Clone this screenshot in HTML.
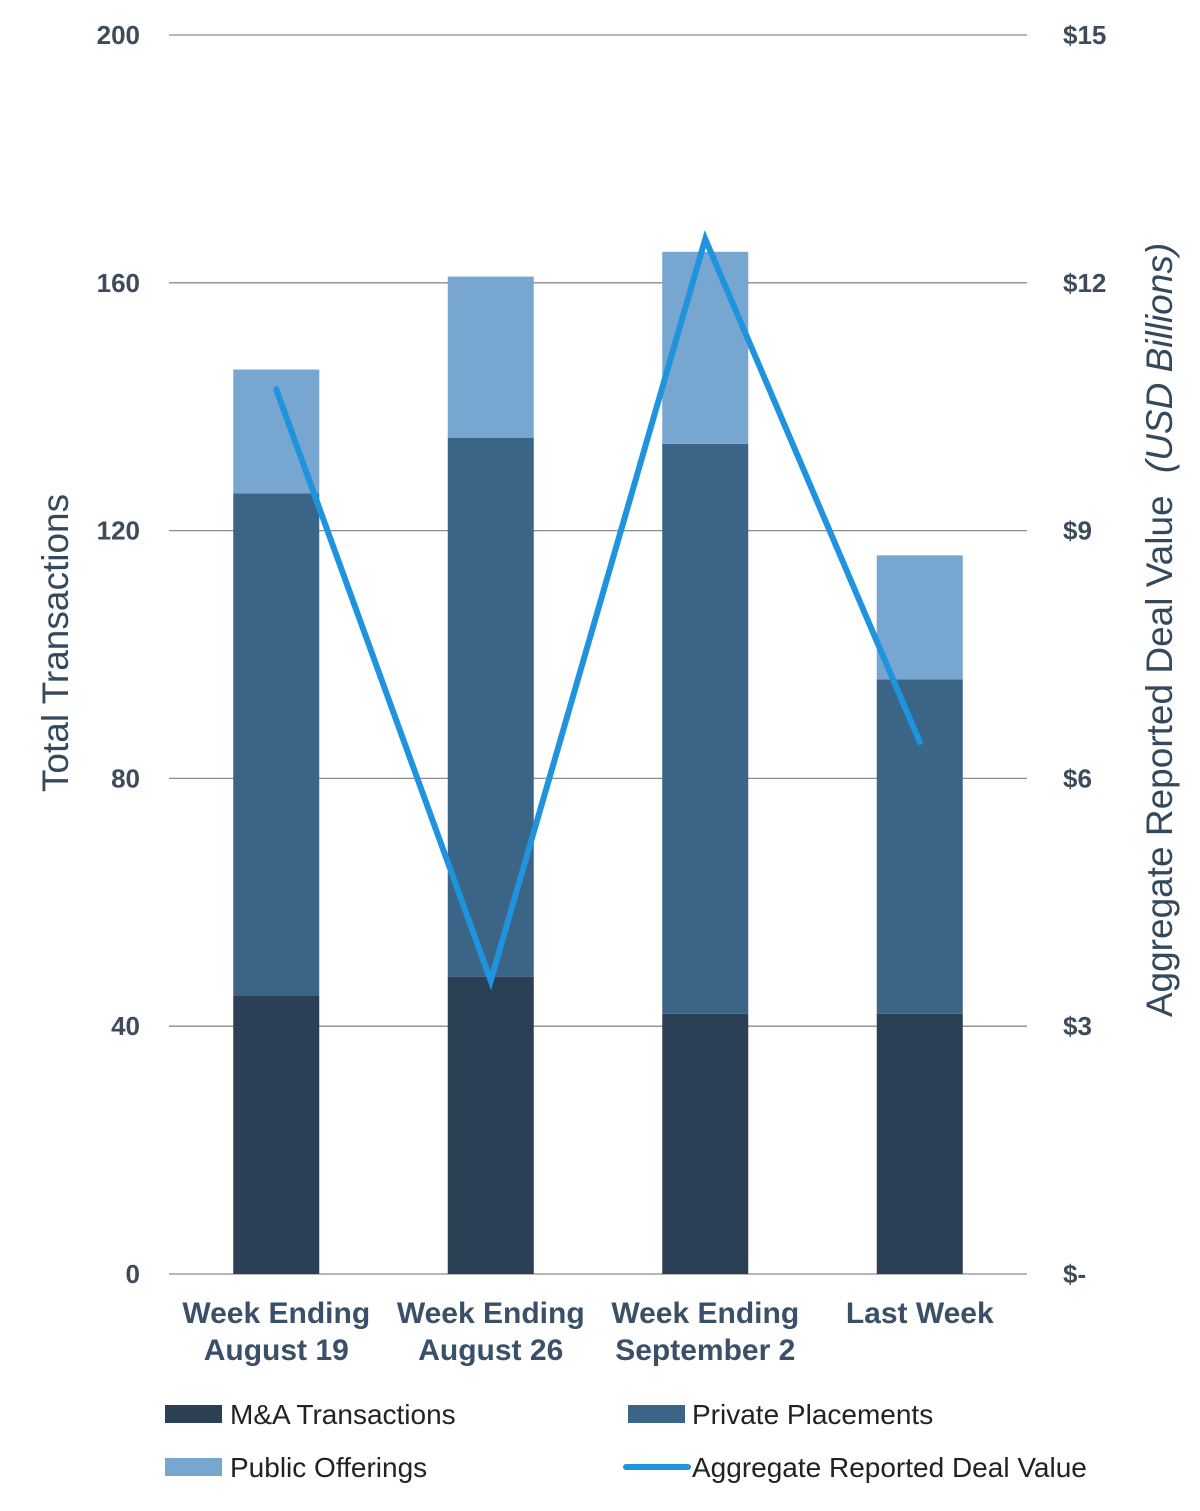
<!DOCTYPE html>
<html><head><meta charset="utf-8"><style>
body{margin:0;background:#fff;}
svg{display:block;font-family:"Liberation Sans","DejaVu Sans",sans-serif;}
</style></head><body>
<svg id="chart" width="1200" height="1511" viewBox="0 0 1200 1511">
<g id="grid"></g>
<g id="bars"></g>
<g id="line"></g>
<g id="ticks"></g>
<text transform="translate(68,643) rotate(-90)" text-anchor="middle" font-size="37" fill="#34495e">Total Transactions</text>
<text transform="translate(1172,630) rotate(-90)" text-anchor="middle" font-size="37" fill="#34495e">Aggregate Reported Deal Value <tspan font-style="italic" dx="12">(USD Billions)</tspan></text>
<g font-size="28" fill="#222">
<rect x="165" y="1405" width="57" height="18" fill="#2b3f55"/>
<text x="230" y="1424">M&amp;A Transactions</text>
<rect x="628" y="1405" width="57" height="18" fill="#3a6587"/>
<text x="692" y="1424">Private Placements</text>
<rect x="165" y="1458" width="57" height="18" fill="#77a6d1"/>
<text x="230" y="1477">Public Offerings</text>
<line x1="626" y1="1467" x2="688" y2="1467" stroke="#1f93dd" stroke-width="6" stroke-linecap="round"/>
<text x="692" y="1477">Aggregate Reported Deal Value</text>
</g>
</svg>
<script>
const categories=[["Week Ending","August 19"],["Week Ending","August 26"],["Week Ending","September 2"],["Last Week"]];
const maValues=[45,48,42,42];
const ppValues=[81,87,92,54];
const poValues=[20,26,31,20];
const dealValues=[10.71,3.55,12.53,6.44];
const leftTicks=[0,40,80,120,160,200];
const rightTickLabels=["$-","$3","$6","$9","$12","$15"];
const rightTicks=[0,3,6,9,12,15];

const NS="http://www.w3.org/2000/svg";
const x0=169,x1=1027,yB=1274,yT=35;
const yL=v=>yB-(v/200)*(yB-yT);
const yR=v=>yB-(v/15)*(yB-yT);
const band=(x1-x0)/categories.length;
const bw=86;
function mk(tag,attrs,parent){const e=document.createElementNS(NS,tag);for(const k in attrs)e.setAttribute(k,attrs[k]);parent.appendChild(e);return e;}
const grid=document.getElementById('grid'),bars=document.getElementById('bars'),line=document.getElementById('line'),ticks=document.getElementById('ticks');
leftTicks.forEach((t,i)=>{
  const g=mk('line',{x1:x0,x2:x1,y1:yL(t),y2:yL(t),stroke:'#8c8c8c','stroke-width':1.3},grid);
  
  
  const lt=mk('text',{x:140,y:yL(t)+9,'text-anchor':'end','font-size':26,'font-weight':'bold',fill:'#3d4b5a'},ticks);
  lt.textContent=t;
  
  
});
rightTicks.forEach((t,i)=>{
  const rt=mk('text',{x:1063,y:yR(t)+9,'font-size':26,'font-weight':'bold',fill:'#3d4b5a'},ticks);
  rt.textContent=rightTickLabels[i];
  
  
});
const pts=[];
categories.forEach((c,i)=>{
  const cx=x0+band*(i+0.5);
  let base=0;
  [[maValues[i],'#2b3f55','bar-ma'],[ppValues[i],'#3a6587','bar-pp'],[poValues[i],'#77a6d1','bar-po']].forEach(([v,col,nm])=>{
    const r=mk('rect',{x:cx-bw/2,y:yL(base+v),width:bw,height:yL(base)-yL(base+v),fill:col},bars);
    
    
    base+=v;
  });
  pts.push([cx,yR(dealValues[i])]);
  const t=mk('text',{x:cx,y:1323,'text-anchor':'middle','font-size':30,'font-weight':'bold',fill:'#3a5068'},ticks);
  
  
  c.forEach((s,j)=>{const ts=mk('tspan',{x:cx,dy:j?37:0},t);ts.textContent=s;});
});
const p=mk('polyline',{points:pts.map(q=>q.join(',')).join(' '),fill:'none',stroke:'#1f93dd','stroke-width':6,'stroke-linejoin':'miter','stroke-linecap':'round'},line);


</script>
</body></html>
